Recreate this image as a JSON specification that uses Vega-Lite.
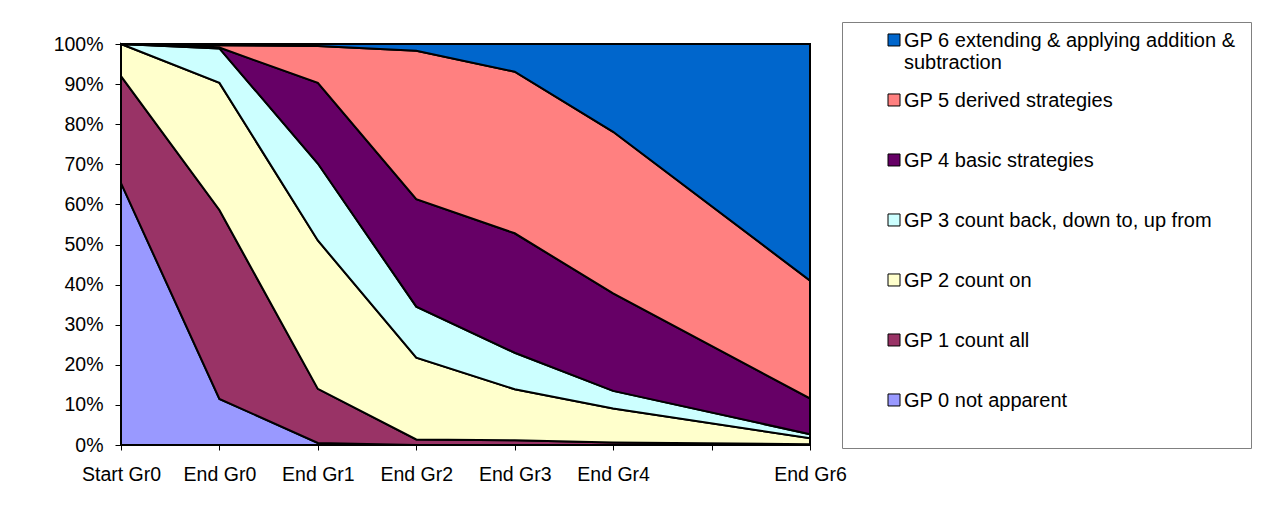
{
  "$schema": "https://vega.github.io/schema/vega-lite/v6.json",
  "width": 689,
  "height": 401,
  "autosize": {"type": "none"},
  "padding": {"left": 121, "top": 44, "right": 463, "bottom": 66},
  "background": "white",
  "config": {
    "view": {"stroke": "#808080", "strokeWidth": 1},
    "font": "Liberation Sans",
    "axis": {
      "domainColor": "black",
      "domainWidth": 1,
      "tickColor": "black",
      "labelColor": "black",
      "labelFont": "Liberation Sans",
      "labelFontSize": 19.5,
      "grid": false,
      "title": null
    }
  },
  "datasets": {
    "shares": [
      {"stage": "Start Gr0", "series": "GP 0 not apparent", "k": 0, "value": 65.3},
      {"stage": "Start Gr0", "series": "GP 1 count all", "k": 1, "value": 26.7},
      {"stage": "Start Gr0", "series": "GP 2 count on", "k": 2, "value": 8.0},
      {"stage": "Start Gr0", "series": "GP 3 count back, down to, up from", "k": 3, "value": 0},
      {"stage": "Start Gr0", "series": "GP 4 basic strategies", "k": 4, "value": 0},
      {"stage": "Start Gr0", "series": "GP 5 derived strategies", "k": 5, "value": 0},
      {"stage": "Start Gr0", "series": "GP 6 extending & applying addition & subtraction", "k": 6, "value": 0},
      {"stage": "End Gr0", "series": "GP 0 not apparent", "k": 0, "value": 11.5},
      {"stage": "End Gr0", "series": "GP 1 count all", "k": 1, "value": 47.1},
      {"stage": "End Gr0", "series": "GP 2 count on", "k": 2, "value": 31.7},
      {"stage": "End Gr0", "series": "GP 3 count back, down to, up from", "k": 3, "value": 8.6},
      {"stage": "End Gr0", "series": "GP 4 basic strategies", "k": 4, "value": 0.2},
      {"stage": "End Gr0", "series": "GP 5 derived strategies", "k": 5, "value": 0.6},
      {"stage": "End Gr0", "series": "GP 6 extending & applying addition & subtraction", "k": 6, "value": 0.3},
      {"stage": "End Gr1", "series": "GP 0 not apparent", "k": 0, "value": 0.5},
      {"stage": "End Gr1", "series": "GP 1 count all", "k": 1, "value": 13.5},
      {"stage": "End Gr1", "series": "GP 2 count on", "k": 2, "value": 37.0},
      {"stage": "End Gr1", "series": "GP 3 count back, down to, up from", "k": 3, "value": 19.2},
      {"stage": "End Gr1", "series": "GP 4 basic strategies", "k": 4, "value": 20.1},
      {"stage": "End Gr1", "series": "GP 5 derived strategies", "k": 5, "value": 9.2},
      {"stage": "End Gr1", "series": "GP 6 extending & applying addition & subtraction", "k": 6, "value": 0.5},
      {"stage": "End Gr2", "series": "GP 0 not apparent", "k": 0, "value": 0},
      {"stage": "End Gr2", "series": "GP 1 count all", "k": 1, "value": 1.4},
      {"stage": "End Gr2", "series": "GP 2 count on", "k": 2, "value": 20.4},
      {"stage": "End Gr2", "series": "GP 3 count back, down to, up from", "k": 3, "value": 12.7},
      {"stage": "End Gr2", "series": "GP 4 basic strategies", "k": 4, "value": 26.8},
      {"stage": "End Gr2", "series": "GP 5 derived strategies", "k": 5, "value": 37.0},
      {"stage": "End Gr2", "series": "GP 6 extending & applying addition & subtraction", "k": 6, "value": 1.7},
      {"stage": "End Gr3", "series": "GP 0 not apparent", "k": 0, "value": 0},
      {"stage": "End Gr3", "series": "GP 1 count all", "k": 1, "value": 1.2},
      {"stage": "End Gr3", "series": "GP 2 count on", "k": 2, "value": 12.7},
      {"stage": "End Gr3", "series": "GP 3 count back, down to, up from", "k": 3, "value": 9.1},
      {"stage": "End Gr3", "series": "GP 4 basic strategies", "k": 4, "value": 29.8},
      {"stage": "End Gr3", "series": "GP 5 derived strategies", "k": 5, "value": 40.3},
      {"stage": "End Gr3", "series": "GP 6 extending & applying addition & subtraction", "k": 6, "value": 6.9},
      {"stage": "End Gr4", "series": "GP 0 not apparent", "k": 0, "value": 0},
      {"stage": "End Gr4", "series": "GP 1 count all", "k": 1, "value": 0.6},
      {"stage": "End Gr4", "series": "GP 2 count on", "k": 2, "value": 8.5},
      {"stage": "End Gr4", "series": "GP 3 count back, down to, up from", "k": 3, "value": 4.4},
      {"stage": "End Gr4", "series": "GP 4 basic strategies", "k": 4, "value": 24.3},
      {"stage": "End Gr4", "series": "GP 5 derived strategies", "k": 5, "value": 40.3},
      {"stage": "End Gr4", "series": "GP 6 extending & applying addition & subtraction", "k": 6, "value": 21.9},
      {"stage": "End Gr6", "series": "GP 0 not apparent", "k": 0, "value": 0},
      {"stage": "End Gr6", "series": "GP 1 count all", "k": 1, "value": 0.2},
      {"stage": "End Gr6", "series": "GP 2 count on", "k": 2, "value": 1.5},
      {"stage": "End Gr6", "series": "GP 3 count back, down to, up from", "k": 3, "value": 1.0},
      {"stage": "End Gr6", "series": "GP 4 basic strategies", "k": 4, "value": 8.9},
      {"stage": "End Gr6", "series": "GP 5 derived strategies", "k": 5, "value": 29.4},
      {"stage": "End Gr6", "series": "GP 6 extending & applying addition & subtraction", "k": 6, "value": 59.0}
    ]
  },
  "data": {"name": "shares"},
  "mark": {"type": "area", "stroke": "black", "strokeWidth": 2, "opacity": 1, "fillOpacity": 1},
  "encoding": {
    "x": {
      "field": "stage",
      "type": "ordinal",
      "scale": {"type": "point", "padding": 0, "domain": ["Start Gr0", "End Gr0", "End Gr1", "End Gr2", "End Gr3", "End Gr4", "End Gr5", "End Gr6"]},
      "axis": {"labelAngle": 0, "tickSize": 5, "labelPadding": 15, "labelOverlap": false, "labelFlush": false, "labelExpr": "datum.value == 'End Gr5' ? '' : datum.label"}
    },
    "y": {
      "field": "value",
      "type": "quantitative",
      "stack": "normalize",
      "scale": {"domain": [0, 1], "nice": false},
      "axis": {"values": [0, 0.1, 0.2, 0.3, 0.4, 0.5, 0.6, 0.7, 0.8, 0.9, 1], "format": ".0%", "tickSize": 6, "labelPadding": 12}
    },
    "color": {
      "field": "series",
      "type": "nominal",
      "scale": {
        "domain": ["GP 6 extending & applying addition & subtraction", "GP 5 derived strategies", "GP 4 basic strategies", "GP 3 count back, down to, up from", "GP 2 count on", "GP 1 count all", "GP 0 not apparent"],
        "range": ["#0066CC", "#FF8080", "#660066", "#CCFFFF", "#FFFFCC", "#993366", "#9999FF"]
      },
      "legend": {
        "title": "\u00a0",
        "titleOrient": "bottom",
        "titleFontSize": 20,
        "titlePadding": 2,
        "orient": "none",
        "legendX": 721,
        "legendY": -22,
        "padding": 15,
        "strokeColor": "#808080",
        "gridAlign": "all",
        "rowPadding": 18,
        "symbolType": "M-1,-2.17H1V-0.17H-1Z",
        "symbolSize": 144,
        "symbolStrokeColor": "black",
        "symbolStrokeWidth": 1,
        "symbolOffset": 27,
        "symbolOpacity": 1,
        "labelOffset": 0,
        "labelFont": "Liberation Sans",
        "labelFontSize": 20,
        "labelColor": "black",
        "labelBaseline": "alphabetic",
        "labelLimit": 600,
        "labelExpr": "datum.label == 'GP 6 extending & applying addition & subtraction' ? ['GP 6 extending & applying addition &', 'subtraction'] : datum.label"
      }
    },
    "order": {"field": "k", "type": "quantitative", "sort": "ascending"}
  }
}
